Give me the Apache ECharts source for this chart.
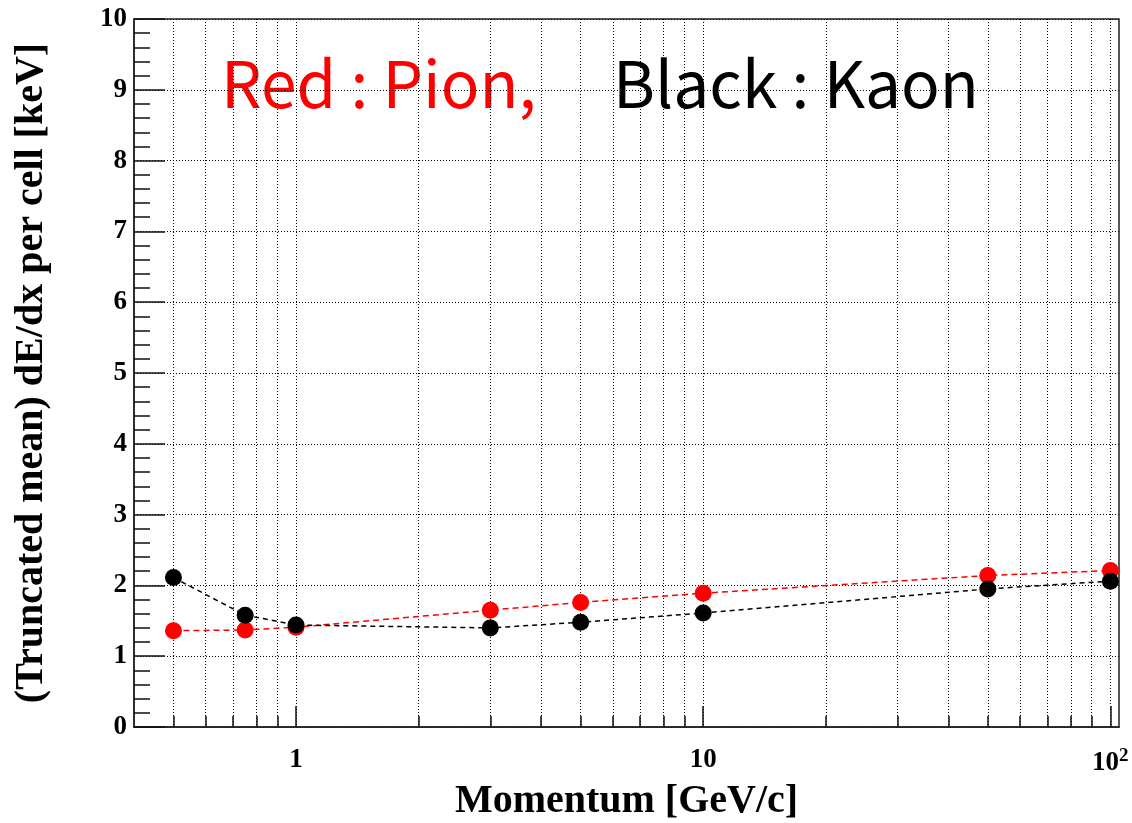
<!DOCTYPE html>
<html>
<head>
<meta charset="utf-8">
<script src="https://cdn.jsdelivr.net/npm/echarts@6/dist/echarts.min.js"></script>
<style>
  html, body { margin: 0; padding: 0; background: #fff; }
  #chart { width: 1132px; height: 823px; }
</style>
</head>
<body>
<div id="chart"></div>
<script>
// Momentum points [GeV/c] and truncated-mean dE/dx per cell [keV]
const momentum = [0.5, 0.75, 1, 3, 5, 10, 50, 100];
const pionDedx = [1.36, 1.37, 1.41, 1.65, 1.76, 1.89, 2.14, 2.21];
const kaonDedx = [2.11, 1.58, 1.44, 1.40, 1.48, 1.61, 1.95, 2.06];

// Log-axis tick positions (every 1..9 x 10^n) and the labelled decades
const xTickValues = [0.5, 0.6, 0.7, 0.8, 0.9, 1, 2, 3, 4, 5, 6, 7, 8, 9,
                     10, 20, 30, 40, 50, 60, 70, 80, 90, 100];
const xLabelValues = [1, 10, 100];
const yTickLabels = ['0', '1', '2', '3', '4', '5', '6', '7', '8', '9', '10'];

const serif = '"Liberation Serif", "DejaVu Serif", serif';
const gridDots = { color: '#000', width: 1, type: [1, 2] };
const plotRect = { left: 134, right: 13, top: 19, bottom: 96, outerBoundsMode: 'none' };

const pairs = (xs, ys) => xs.map((x, i) => [x, ys[i]]);

const chart = echarts.init(document.getElementById('chart'));
chart.setOption({
  backgroundColor: '#fff',
  animation: false,
  grid: [
    Object.assign({ show: true, borderColor: '#222', borderWidth: 1.5, backgroundColor: 'transparent' }, plotRect),
    // overlay grid carrying the longer decade ticks
    Object.assign({ show: false }, plotRect)
  ],
  xAxis: [
    {
      type: 'log', logBase: 10, min: 0.4, max: 105,
      gridIndex: 0, position: 'bottom',
      name: 'Momentum [GeV/c]',
      nameLocation: 'middle', nameGap: 53,
      nameTextStyle: { fontFamily: serif, fontWeight: 'bold', fontSize: 40, color: '#000' },
      axisLine: { show: true, onZero: false, lineStyle: { color: '#222', width: 1.5 } },
      axisTick: { show: true, inside: true, length: 11, customValues: xTickValues,
                  lineStyle: { color: '#111', width: 1.5 } },
      axisLabel: {
        show: true, customValues: xLabelValues, margin: 20,
        fontFamily: serif, fontWeight: 'bold', fontSize: 27, color: '#000',
        formatter: v => (Math.abs(v - 100) < 1e-6 ? '{b|10}{s|2}' : String(Math.round(v))),
        rich: {
          b: { fontFamily: serif, fontWeight: 'bold', fontSize: 27, color: '#000' },
          s: { fontFamily: serif, fontWeight: 'bold', fontSize: 19, color: '#000', verticalAlign: 'top', padding: [0, 0, 14, 0] }
        }
      },
      splitLine: { show: true, lineStyle: gridDots },
      minorTick: { show: false },
      minorSplitLine: { show: false }
    },
    {
      type: 'log', logBase: 10, min: 0.4, max: 105,
      gridIndex: 1, position: 'bottom',
      axisLine: { show: false },
      axisTick: { show: true, inside: true, length: 21, customValues: xLabelValues,
                  lineStyle: { color: '#111', width: 1.5 } },
      axisLabel: { show: false },
      splitLine: { show: false }
    }
  ],
  yAxis: [
    {
      type: 'value', min: 0, max: 10, interval: 1, gridIndex: 0,
      name: '(Truncated mean) dE/dx per cell [keV]',
      nameLocation: 'middle', nameGap: 82, nameRotate: 90,
      nameTextStyle: { fontFamily: serif, fontWeight: 'bold', fontSize: 40, color: '#000' },
      axisLine: { show: true, lineStyle: { color: '#222', width: 1.5 } },
      axisTick: { show: true, inside: true, length: 31, lineStyle: { color: '#111', width: 1.5 } },
      minorTick: { show: true, splitNumber: 5, length: 16, lineStyle: { color: '#111', width: 1.5 } },
      axisLabel: {
        margin: 7, fontFamily: serif, fontWeight: 'bold', fontSize: 27, color: '#000',
        formatter: v => yTickLabels[Math.round(v)]
      },
      splitLine: { show: true, lineStyle: gridDots }
    },
    {
      type: 'value', min: 0, max: 10, gridIndex: 1,
      axisLine: { show: false }, axisTick: { show: false },
      axisLabel: { show: false }, splitLine: { show: false }
    }
  ],
  graphic: [
    { type: 'text', left: 221, top: 52,
      style: { text: 'Red : Pion,', fill: '#ff0000', font: '64px "Noto Sans CJK JP", "Noto Sans", sans-serif' } },
    { type: 'text', left: 613, top: 52,
      style: { text: 'Black : Kaon', fill: '#000', font: '64px "Noto Sans CJK JP", "Noto Sans", sans-serif' } }
  ],
  series: [
    {
      name: 'Pion', type: 'line', xAxisIndex: 0, yAxisIndex: 0,
      data: pairs(momentum, pionDedx),
      symbol: 'circle', symbolSize: 17,
      itemStyle: { color: '#ff0000' },
      lineStyle: { color: '#ff0000', width: 1.5, type: [6, 4] },
      z: 3
    },
    {
      name: 'Kaon', type: 'line', xAxisIndex: 0, yAxisIndex: 0,
      data: pairs(momentum, kaonDedx),
      symbol: 'circle', symbolSize: 17,
      itemStyle: { color: '#000' },
      lineStyle: { color: '#000', width: 1.5, type: [5, 4] },
      z: 4
    }
  ]
});
</script>
</body>
</html>
